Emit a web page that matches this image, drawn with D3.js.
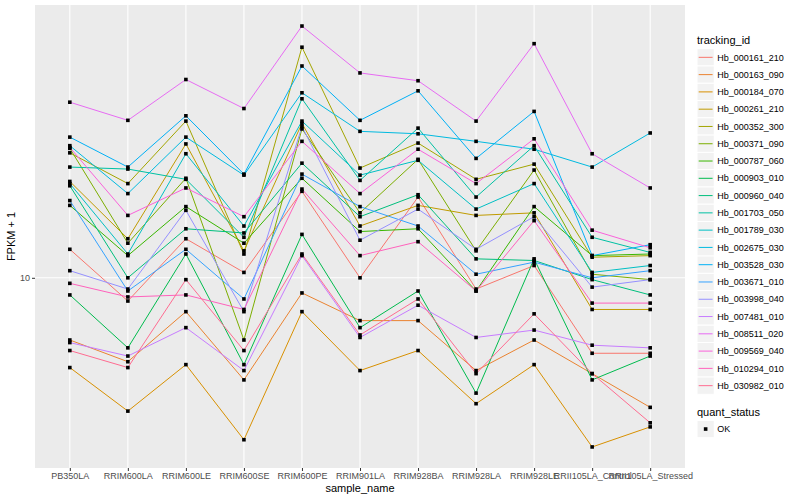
<!DOCTYPE html>
<html>
<head>
<meta charset="utf-8">
<style>
  body { margin: 0; background: #fff; }
  svg { font-family: "Liberation Sans", Arial, Helvetica, sans-serif; }
</style>
</head>
<body>
<svg width="800" height="500"></svg>
<script src="https://cdn.jsdelivr.net/npm/d3@7/dist/d3.min.js"></script>
<script>

// sample names on the x axis
var samples = ["PB350LA", "RRIM600LA", "RRIM600LE", "RRIM600SE", "RRIM600PE", "RRIM901LA",
               "RRIM928BA", "RRIM928LA", "RRIM928LE", "RRII105LA_Control", "RRII105LA_Stressed"];

var trackingIds = ["Hb_000161_210", "Hb_000163_090", "Hb_000184_070", "Hb_000261_210", "Hb_000352_300",
                   "Hb_000371_090", "Hb_000787_060", "Hb_000903_010", "Hb_000960_040", "Hb_001703_050",
                   "Hb_001789_030", "Hb_002675_030", "Hb_003528_030", "Hb_003671_010", "Hb_003998_040",
                   "Hb_007481_010", "Hb_008511_020", "Hb_009569_040", "Hb_010294_010", "Hb_030982_010"];

var colors = ["#F8766D", "#EA8331", "#D89000", "#C09B00", "#A3A500", "#7CAE00", "#39B600", "#00BB4E",
              "#00BF7D", "#00C1A3", "#00BFC4", "#00BAE0", "#00B0F6", "#35A2FF", "#9590FF", "#C77CFF",
              "#E76BF3", "#FA62DB", "#FF62BC", "#FF6C91"];

// FPKM + 1, one value per sample
var hb000161 = [11.7, 8.8, 12.4, 10.3, 16.1, 10.0, 15.6, 9.4, 10.7, 6.6, 6.6];
var hb000163 = [7.1, 6.3, 8.3, 5.7, 9.2, 7.9, 7.9, 6.0, 7.1, 5.9, 4.9];
var hb000184 = [6.1, 4.8, 6.2, 4.1, 8.3, 6.0, 6.7, 5.0, 6.2, 3.94, 4.4];
var hb000261 = [17.0, 12.4, 20.9, 11.6, 23.4, 13.3, 14.9, 14.1, 14.3, 8.4, 8.4];
var hb000352 = [19.9, 16.8, 23.7, 11.4, 35.6, 18.3, 21.0, 17.2, 18.7, 11.2, 11.3];
var hb000371 = [20.4, 12.1, 17.3, 7.1, 22.7, 14.3, 19.2, 11.6, 18.1, 10.2, 9.9];
var hb000787 = [14.9, 11.3, 14.8, 12.1, 17.3, 12.9, 13.1, 9.3, 14.8, 11.3, 11.4];
var hb000903 = [9.1, 6.8, 11.4, 6.2, 12.7, 7.6, 9.3, 5.3, 11.1, 5.7, 6.5];
var hb000960 = [16.6, 10.0, 13.1, 12.8, 18.8, 14.0, 15.8, 11.1, 11.0, 9.9, 9.1];
var hb001703 = [18.4, 18.2, 17.2, 12.5, 26.8, 17.1, 22.8, 15.6, 20.7, 12.5, 11.5];
var hb001789 = [16.8, 11.4, 19.8, 13.3, 23.7, 17.6, 19.1, 14.6, 16.8, 10.3, 10.7];
var hb002675 = [20.7, 15.9, 21.7, 17.6, 27.7, 22.4, 22.1, 21.2, 20.3, 18.4, 22.2];
var hb003528 = [21.7, 18.4, 24.4, 17.7, 32.1, 23.8, 28.0, 19.3, 25.0, 11.3, 12.0];
var hb003671 = [15.3, 9.3, 11.7, 8.9, 17.7, 14.8, 13.3, 10.2, 10.9, 10.0, 10.4];
var hb003998 = [10.4, 9.4, 14.5, 8.3, 23.0, 12.3, 14.6, 11.7, 14.0, 9.5, 9.9];
var hb007481 = [7.0, 6.5, 7.6, 6.0, 11.3, 7.2, 8.6, 7.2, 7.5, 6.9, 6.8];
var hb008511 = [26.3, 23.8, 29.8, 25.4, 40.0, 30.9, 29.6, 23.7, 36.3, 19.8, 16.4];
var hb009569 = [20.5, 14.1, 16.4, 14.0, 21.2, 15.9, 20.3, 16.8, 21.5, 13.0, 11.8];
var hb010294 = [9.7, 9.0, 9.1, 8.4, 16.3, 11.3, 12.2, 9.3, 13.7, 8.7, 8.7];
var hb030982 = [6.7, 6.1, 9.9, 6.7, 11.4, 7.3, 8.9, 5.9, 8.2, 5.9, 4.5];

var values = [hb000161, hb000163, hb000184, hb000261, hb000352, hb000371, hb000787, hb000903,
              hb000960, hb001703, hb001789, hb002675, hb003528, hb003671, hb003998, hb007481,
              hb008511, hb009569, hb010294, hb030982];

var yTicks = [10];

var series = trackingIds.map(function(id, i) {
  return {id: id, color: colors[i], points: samples.map(function(s, j) { return {sample: s, v: values[i][j]}; })};
});

var svg = d3.select("svg"),
    panel = {left: 35, top: 5, right: 685, bottom: 468};

// log scale with ggplot's 5% expansion
var all = d3.merge(values),
    lo = Math.log10(d3.min(all)), hi = Math.log10(d3.max(all)),
    pad = (hi - lo) * 0.05;

var x = d3.scalePoint().domain(samples).range([panel.left, panel.right]).padding(0.6);
var y = d3.scaleLog().domain([Math.pow(10, lo - pad), Math.pow(10, hi + pad)]).range([panel.bottom, panel.top]);

svg.append("rect")
    .attr("x", panel.left).attr("y", panel.top)
    .attr("width", panel.right - panel.left).attr("height", panel.bottom - panel.top)
    .attr("fill", "#EBEBEB");

// grid
svg.append("g").selectAll("line").data(samples).enter().append("line")
    .attr("x1", function(d) { return x(d); }).attr("x2", function(d) { return x(d); })
    .attr("y1", panel.top).attr("y2", panel.bottom)
    .attr("stroke", "#fff").attr("stroke-width", 1.1);
svg.append("g").selectAll("line").data(yTicks).enter().append("line")
    .attr("x1", panel.left).attr("x2", panel.right)
    .attr("y1", function(d) { return y(d); }).attr("y2", function(d) { return y(d); })
    .attr("stroke", "#fff").attr("stroke-width", 1.1);

var line = d3.line()
    .x(function(d) { return x(d.sample); })
    .y(function(d) { return y(d.v); });

svg.append("g").selectAll("path").data(series).enter().append("path")
    .attr("d", function(d) { return line(d.points); })
    .attr("fill", "none")
    .attr("stroke", function(d) { return d.color; })
    .attr("stroke-width", 1);

svg.append("g").selectAll("rect").data(d3.merge(series.map(function(d) { return d.points; }))).enter().append("rect")
    .attr("x", function(d) { return x(d.sample) - 1.8; })
    .attr("y", function(d) { return y(d.v) - 1.8; })
    .attr("width", 3.6).attr("height", 3.6)
    .attr("fill", "#000");

// axes
var xAxis = svg.append("g")
    .attr("transform", "translate(0," + panel.bottom + ")")
    .call(d3.axisBottom(x).tickSize(3).tickPadding(2));
var yAxis = svg.append("g")
    .attr("transform", "translate(" + panel.left + ",0)")
    .call(d3.axisLeft(y).tickValues(yTicks).tickFormat(d3.format("d")).tickSize(3).tickPadding(2));
[xAxis, yAxis].forEach(function(a) {
  a.select(".domain").remove();
  a.selectAll(".tick line").attr("stroke", "#333");
  a.selectAll(".tick text").attr("fill", "#4D4D4D").attr("font-size", "9px")
      .attr("font-family", "Liberation Sans, Arial, sans-serif");
});

svg.append("text")
    .attr("x", (panel.left + panel.right) / 2).attr("y", 492)
    .attr("text-anchor", "middle").attr("font-size", "11px")
    .text("sample_name");
svg.append("text")
    .attr("transform", "translate(15," + (panel.top + panel.bottom) / 2 + ") rotate(-90)")
    .attr("text-anchor", "middle").attr("font-size", "11px")
    .text("FPKM + 1");

// legend
var lg = svg.append("g").attr("transform", "translate(697,0)"),
    keyH = 17.28, keyTop = 48.7;

lg.append("text").attr("x", 0).attr("y", 44).attr("font-size", "11px").text("tracking_id");

var keys = lg.selectAll("g.key").data(series).enter().append("g")
    .attr("class", "key")
    .attr("transform", function(d, i) { return "translate(0," + (keyTop + i * keyH) + ")"; });
keys.append("rect").attr("width", keyH).attr("height", keyH)
    .attr("fill", "#F2F2F2").attr("stroke", "#fff").attr("stroke-width", 1);
keys.append("line").attr("x1", 1.7).attr("x2", keyH - 1.7)
    .attr("y1", keyH / 2).attr("y2", keyH / 2)
    .attr("stroke", function(d) { return d.color; }).attr("stroke-width", 1);
keys.append("text").attr("x", keyH + 3).attr("y", keyH / 2 + 3.2)
    .attr("font-size", "9px").text(function(d) { return d.id; });

lg.append("text").attr("x", 0).attr("y", 416).attr("font-size", "11px").text("quant_status");
var ok = lg.append("g").attr("transform", "translate(0,420.4)");
ok.append("rect").attr("width", keyH).attr("height", keyH)
    .attr("fill", "#F2F2F2").attr("stroke", "#fff");
ok.append("rect").attr("x", keyH / 2 - 1.8).attr("y", keyH / 2 - 1.8)
    .attr("width", 3.6).attr("height", 3.6).attr("fill", "#000");
ok.append("text").attr("x", keyH + 3).attr("y", keyH / 2 + 3.2).attr("font-size", "9px").text("OK");

</script>
</body>
</html>
